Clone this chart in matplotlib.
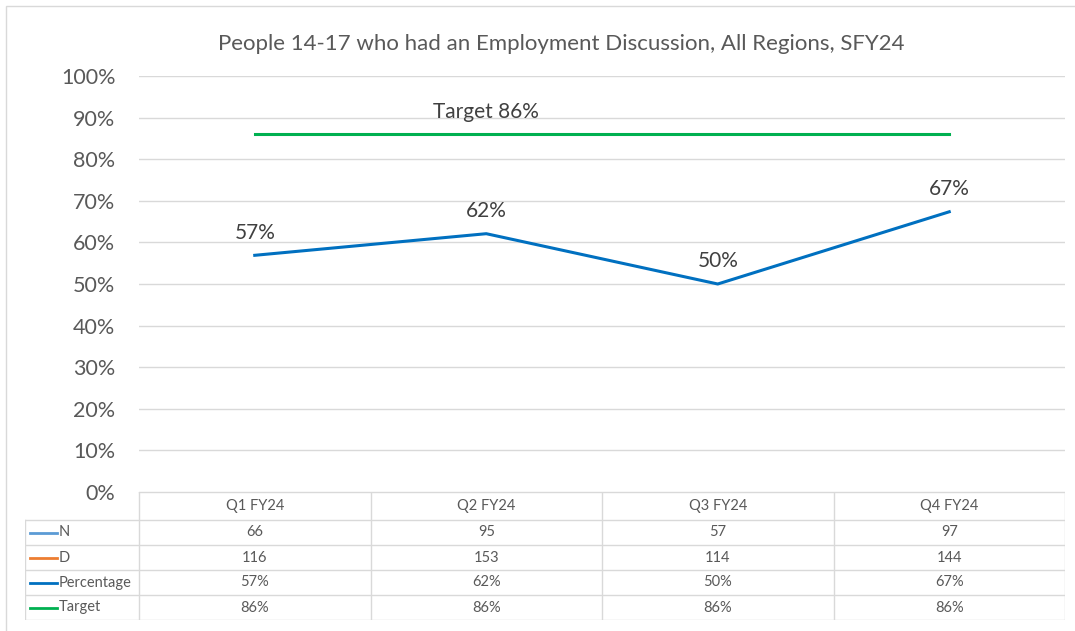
import matplotlib.pyplot as plt
import numpy as np
from matplotlib.lines import Line2D
from matplotlib.patches import Rectangle

# Données trimestrielles
quarters = ["Q1 FY24", "Q2 FY24", "Q3 FY24", "Q4 FY24"]
n_values = [66, 95, 57, 97]
d_values = [116, 153, 114, 144]
target = [0.86, 0.86, 0.86, 0.86]
pct = [n / d for n, d in zip(n_values, d_values)]

plt.rcParams['font.family'] = ['Lato', 'DejaVu Sans']
grey = '#595959'
c_n = '#5b9bd5'
c_d = '#ed7d31'
c_pct = '#0070c0'
c_target = '#00b050'

W, H = 1075, 631
fig = plt.figure(figsize=(W / 100, H / 100), dpi=100)

# Cadre extérieur du graphique
fig.patches.append(Rectangle((6 / W, -0.1), 1.2, (H - 6) / H + 0.1, transform=fig.transFigure,
                             fill=False, edgecolor='#d9d9d9', linewidth=1))

# Zone de tracé
left, right, top, bottom = 139, 1065, 76, 492
ax = fig.add_axes([left / W, (H - bottom) / H, (right - left) / W, (bottom - top) / H])
x = np.arange(len(quarters))
ax.set_xlim(-0.5, len(quarters) - 0.5)
ax.set_ylim(0, 1)
ax.set_yticks(np.arange(0, 1.01, 0.1))
ax.set_yticklabels([f"{int(round(v * 100))}%" for v in np.arange(0, 1.01, 0.1)],
                   fontsize=15.5, color=grey)
ax.set_xticks([])
ax.tick_params(axis='y', length=0, pad=17)
ax.grid(axis='y', color='#d9d9d9', linewidth=1)
ax.set_axisbelow(True)
for s in ax.spines.values():
    s.set_visible(False)

ax.plot(x, pct, color=c_pct, linewidth=2.2)
ax.plot(x, target, color=c_target, linewidth=2.2)

# Étiquettes de valeurs
for xi, p in zip(x, pct):
    ax.annotate(f"{p:.0%}", (xi, p), xytext=(0, 9), textcoords='offset points',
                ha='center', va='bottom', fontsize=15, color='#404040')
ax.annotate(f"Target {target[1]:.0%}", (x[1], target[1]), xytext=(0, 9),
            textcoords='offset points', ha='center', va='bottom', fontsize=15, color='#404040')

fig.text(561 / W, 1 - 44 / H,
         "People 14-17 who had an Employment Discussion, All Regions, SFY24",
         ha='center', va='center', fontsize=16, color=grey)

# Tableau de données sous le graphique
tleft, tbottom = 25, 620
tax = fig.add_axes([tleft / W, (H - tbottom) / H, (right - tleft) / W, (tbottom - bottom) / H])
unit = (right - left) / len(quarters)
x0 = -0.5 - (left - tleft) / unit
tax.set_xlim(x0, len(quarters) - 0.5)
row_edges = [0, 28, 53, 78, 103, 128]
tax.set_ylim(128, 0)
tax.axis('off')
lc = '#d9d9d9'

# Lignes horizontales
tax.plot([-0.5, 3.5], [0, 0], color=lc, lw=1)
for yy in row_edges[1:]:
    tax.plot([x0, 3.5], [yy, yy], color=lc, lw=1)
# Lignes verticales
tax.plot([x0, x0], [row_edges[1], row_edges[-1]], color=lc, lw=1)
for xx in np.arange(-0.5, 3.6, 1):
    tax.plot([xx, xx], [0, row_edges[-1]], color=lc, lw=1)

rows = [
    ("N", c_n, [str(v) for v in n_values]),
    ("D", c_d, [str(v) for v in d_values]),
    ("Percentage", c_pct, [f"{v:.0%}" for v in pct]),
    ("Target", c_target, [f"{v:.0%}" for v in target]),
]
for i, q in enumerate(quarters):
    tax.text(i, row_edges[1] / 2, q, ha='center', va='center', fontsize=10.5, color=grey)
for r, (name, col, vals) in enumerate(rows):
    yc = (row_edges[r + 1] + row_edges[r + 2]) / 2
    tax.add_line(Line2D([x0 + 0.02, x0 + 0.14], [yc, yc], color=col, lw=2))
    tax.text(x0 + 0.145, yc, name, ha='left', va='center', fontsize=10.5, color=grey)
    for i, v in enumerate(vals):
        tax.text(i, yc, v, ha='center', va='center', fontsize=10.5, color=grey)

fig.savefig('out.png', dpi=100)
